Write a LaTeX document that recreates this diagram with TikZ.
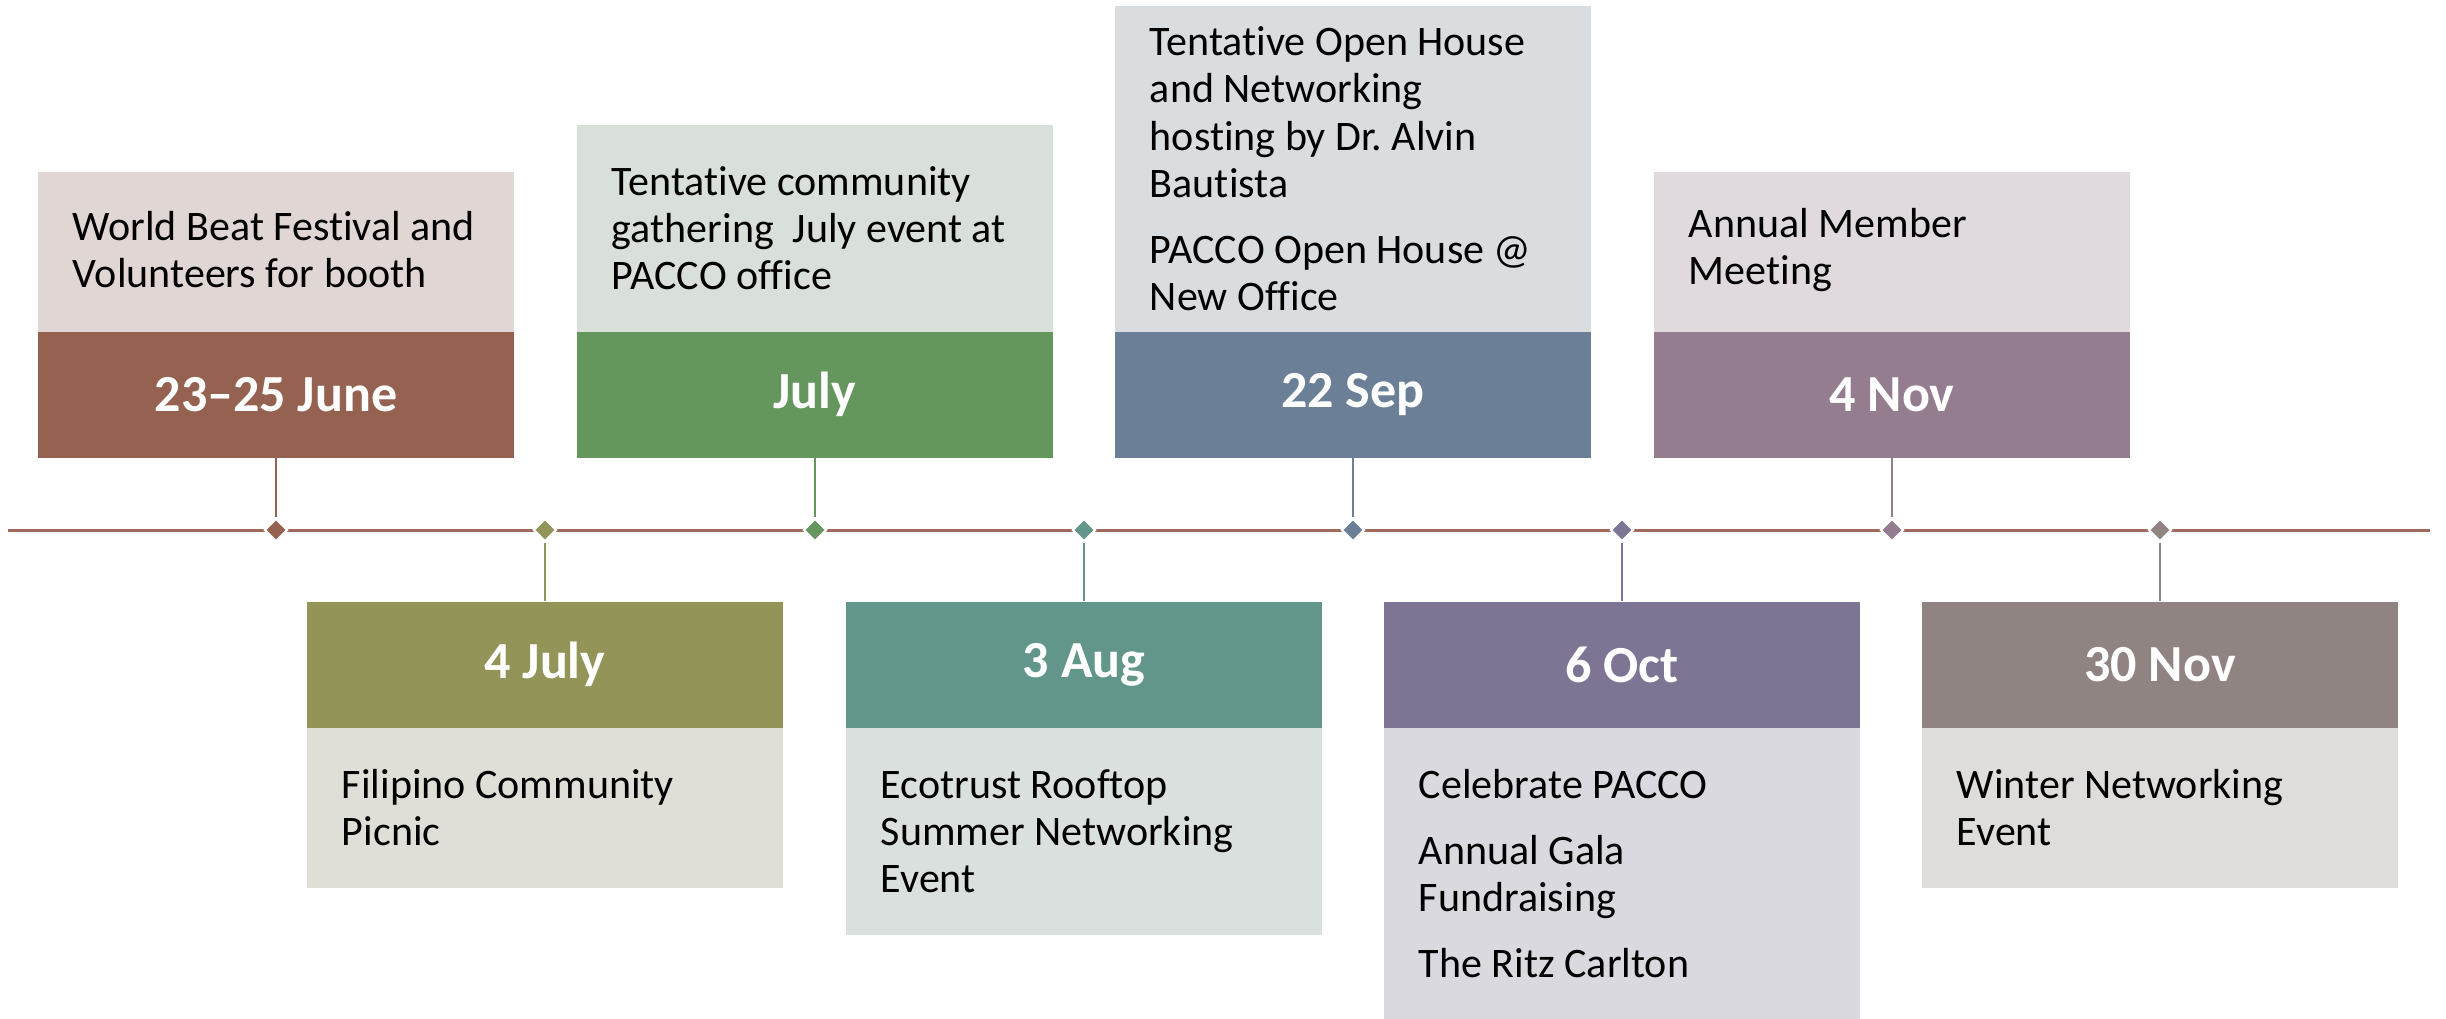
\documentclass[tikz,border=0pt]{standalone}
\usepackage{fontspec}
\setmainfont{Carlito}[Ligatures={NoCommon}]
\usetikzlibrary{shapes.geometric}
\definecolor{junDk}{HTML}{956251}\definecolor{junLt}{HTML}{E0D6D3}
\definecolor{jfDk}{HTML}{939458}\definecolor{jfLt}{HTML}{DFDFD7}
\definecolor{julDk}{HTML}{64965E}\definecolor{julLt}{HTML}{D8E0D9}
\definecolor{augDk}{HTML}{62968A}\definecolor{augLt}{HTML}{DAE0DE}
\definecolor{sepDk}{HTML}{6B8096}\definecolor{sepLt}{HTML}{D9DDE0}
\definecolor{octDk}{HTML}{7E7595}\definecolor{octLt}{HTML}{DAD9DF}
\definecolor{nfDk}{HTML}{947D8E}\definecolor{nfLt}{HTML}{E0D9DE}
\definecolor{ntDk}{HTML}{908482}\definecolor{ntLt}{HTML}{DFDDDC}
\definecolor{tlineC}{HTML}{9E6A5C}
\frenchspacing
\begin{document}
\begin{tikzpicture}[x=0.01cm,y=-0.01cm,
  lightbox/.style={rectangle,fill=#1,draw=none,minimum width=4.76cm,inner sep=0pt,anchor=north},
  datebox/.style={rectangle,fill=#1,draw=none,minimum width=4.76cm,minimum height=1.26cm,inner sep=0pt,anchor=north,
     text=white,font=\fontsize{14.8}{17}\selectfont\bfseries},
  bodytext/.style={anchor=west,align=left,inner sep=0pt,text=black,font=\fontsize{11.95}{13.4}\selectfont},
  dia/.style={diamond,fill=#1,draw=white,line width=0.6pt,minimum size=0.23cm,inner sep=0pt},
  conn/.style={draw=#1,line width=0.45pt},
  tline/.style={draw=tlineC,line width=0.85pt}]
\useasboundingbox (0,0) rectangle (2446,1018);
\fill[white] (0,0) rectangle (2446,1018);

% timeline
\coordinate (tl) at (8,530);
\coordinate (tr) at (2430,530);
\draw[tline] (tl) -- (tr);

% ---- 23-25 June (top)
\node[lightbox=junLt,minimum height=1.6cm] (l1) at (276,171) {};
\node[datebox=junDk] (d1) at (276,331) {23–25 June};
\node[bodytext] (t1) at ([xshift=0.35cm,yshift=0.02cm]l1.west) {World Beat Festival and\\Volunteers for booth};
\node[dia=junDk] (p1) at (276,530) {};
\draw[conn=junDk] (d1.south) -- (p1.north);

% ---- 4 July (bottom)
\node[datebox=jfDk] (d2) at (545,601) {4 July};
\node[lightbox=jfLt,minimum height=1.6cm] (l2) at (545,727) {};
\node[bodytext] (t2) at ([xshift=0.35cm]l2.west) {Filipino Community\\Picnic};
\node[dia=jfDk] (p2) at (545,530) {};
\draw[conn=jfDk] (p2.south) -- (d2.north);

% ---- July (top)
\node[lightbox=julLt,minimum height=2.07cm] (l3) at (815,124) {};
\node[datebox=julDk] (d3) at (815,331) {July};
\node[bodytext] (t3) at ([xshift=0.35cm]l3.west) {Tentative community\\gathering\ \ July event at\\PACCO office};
\node[dia=julDk] (p3) at (815,530) {};
\draw[conn=julDk] (d3.south) -- (p3.north);

% ---- 3 Aug (bottom)
\node[datebox=augDk] (d4) at (1084,601) {3 Aug};
\node[lightbox=augLt,minimum height=2.07cm] (l4) at (1084,727) {};
\node[bodytext] (t4) at ([xshift=0.35cm]l4.west) {Ecotrust Rooftop\\Summer Networking\\Event};
\node[dia=augDk] (p4) at (1084,530) {};
\draw[conn=augDk] (p4.south) -- (d4.north);

% ---- 22 Sep (top)
\node[lightbox=sepLt,minimum height=3.26cm] (l5) at (1353,5) {};
\node[datebox=sepDk] (d5) at (1353,331) {22 Sep};
\node[bodytext] (t5) at ([xshift=0.35cm]l5.west) {Tentative Open House\\and Networking\\hosting by Dr. Alvin\\Bautista\\[5.4pt]PACCO Open House @\\New Office};
\node[dia=sepDk] (p5) at (1353,530) {};
\draw[conn=sepDk] (d5.south) -- (p5.north);

% ---- 6 Oct (bottom)
\node[datebox=octDk] (d6) at (1622,601) {6 Oct};
\node[lightbox=octLt,minimum height=2.91cm] (l6) at (1622,727) {};
\node[bodytext] (t6) at ([xshift=0.35cm]l6.west) {Celebrate PACCO\\[5.4pt]Annual Gala\\Fundraising\\[5.4pt]The Ritz Carlton};
\node[dia=octDk] (p6) at (1622,530) {};
\draw[conn=octDk] (p6.south) -- (d6.north);

% ---- 4 Nov (top)
\node[lightbox=nfLt,minimum height=1.6cm] (l7) at (1892,171) {};
\node[datebox=nfDk] (d7) at (1892,331) {4 Nov};
\node[bodytext] (t7) at ([xshift=0.35cm,yshift=0.02cm]l7.west) {Annual Member\\Meeting};
\node[dia=nfDk] (p7) at (1892,530) {};
\draw[conn=nfDk] (d7.south) -- (p7.north);

% ---- 30 Nov (bottom)
\node[datebox=ntDk] (d8) at (2160,601) {30 Nov};
\node[lightbox=ntLt,minimum height=1.6cm] (l8) at (2160,727) {};
\node[bodytext] (t8) at ([xshift=0.35cm]l8.west) {Winter Networking\\Event};
\node[dia=ntDk] (p8) at (2160,530) {};
\draw[conn=ntDk] (p8.south) -- (d8.north);
\end{tikzpicture}
\end{document}
